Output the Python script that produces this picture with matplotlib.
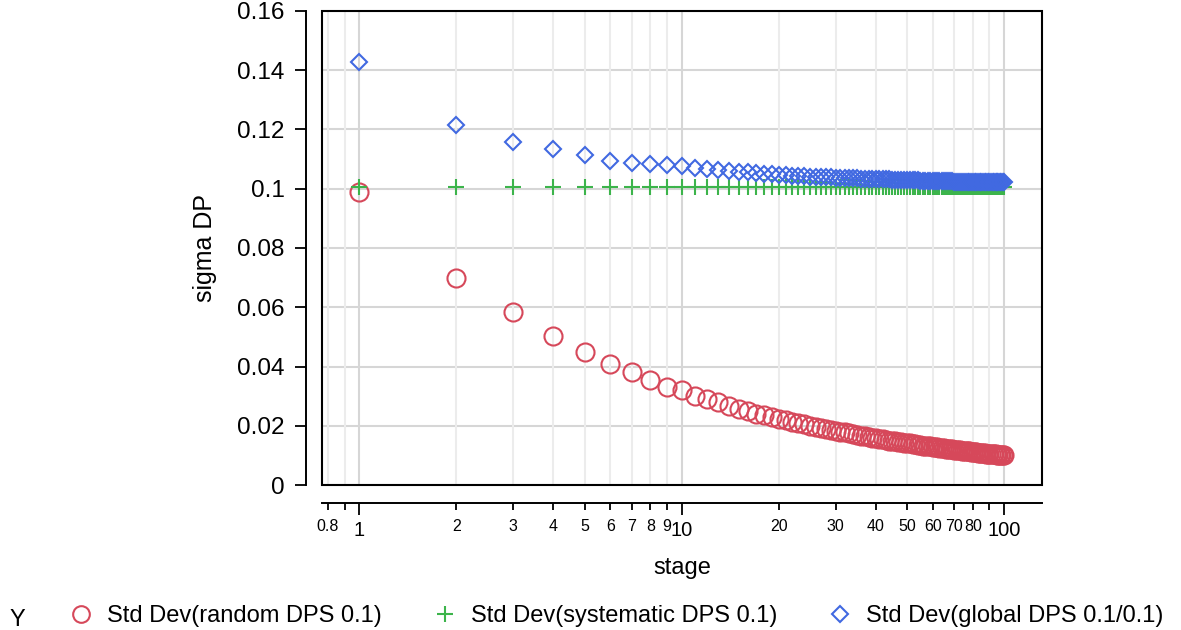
import numpy as np
import matplotlib
matplotlib.use('Agg')
import matplotlib.pyplot as plt
from matplotlib.lines import Line2D
from matplotlib.patches import Rectangle
from matplotlib.ticker import FixedLocator, FixedFormatter

plt.rcParams['font.family'] = ['Liberation Sans', 'DejaVu Sans']

# stages 1..100
stage = list(range(1, 101))

random_dps = [
    0.0988, 0.0699, 0.0583, 0.0502, 0.0449, 0.0409, 0.0381, 0.0355, 0.0330, 0.0321,
    0.0300, 0.0290, 0.0281, 0.0266, 0.0258, 0.0252, 0.0242, 0.0237, 0.0231, 0.0224,
    0.0219, 0.0214, 0.0210, 0.0206, 0.0201, 0.0197, 0.0193, 0.0190, 0.0186, 0.0184,
    0.0181, 0.0178, 0.0175, 0.0172, 0.0170, 0.0167, 0.0165, 0.0163, 0.0161, 0.0159,
    0.0157, 0.0155, 0.0153, 0.0151, 0.0150, 0.0148, 0.0146, 0.0145, 0.0143, 0.0142,
    0.0141, 0.0139, 0.0138, 0.0137, 0.0135, 0.0134, 0.0133, 0.0132, 0.0131, 0.0130,
    0.0129, 0.0128, 0.0127, 0.0126, 0.0125, 0.0124, 0.0123, 0.0122, 0.0121, 0.0120,
    0.0119, 0.0118, 0.0118, 0.0117, 0.0116, 0.0115, 0.0114, 0.0114, 0.0113, 0.0112,
    0.0112, 0.0111, 0.0110, 0.0110, 0.0109, 0.0108, 0.0108, 0.0107, 0.0107, 0.0106,
    0.0105, 0.0105, 0.0104, 0.0104, 0.0103, 0.0103, 0.0102, 0.0102, 0.0101, 0.0101,
]

systematic_dps = [
    0.1006, 0.1005, 0.1006, 0.1006, 0.1005, 0.1006, 0.1005, 0.1006, 0.1006, 0.1005,
    0.1006, 0.1005, 0.1006, 0.1005, 0.1006, 0.1006, 0.1005, 0.1006, 0.1005, 0.1006,
    0.1005, 0.1006, 0.1006, 0.1005, 0.1006, 0.1005, 0.1006, 0.1005, 0.1006, 0.1006,
    0.1005, 0.1006, 0.1005, 0.1006, 0.1006, 0.1005, 0.1006, 0.1005, 0.1006, 0.1005,
    0.1006, 0.1006, 0.1005, 0.1006, 0.1005, 0.1006, 0.1005, 0.1006, 0.1006, 0.1005,
    0.1006, 0.1005, 0.1006, 0.1005, 0.1006, 0.1006, 0.1005, 0.1006, 0.1005, 0.1006,
    0.1005, 0.1006, 0.1006, 0.1005, 0.1006, 0.1005, 0.1006, 0.1005, 0.1006, 0.1006,
    0.1005, 0.1006, 0.1005, 0.1006, 0.1006, 0.1005, 0.1006, 0.1005, 0.1006, 0.1005,
    0.1006, 0.1006, 0.1005, 0.1006, 0.1005, 0.1006, 0.1005, 0.1006, 0.1006, 0.1005,
    0.1006, 0.1005, 0.1006, 0.1005, 0.1006, 0.1006, 0.1005, 0.1006, 0.1005, 0.1006,
]

global_dps = [
    0.1428, 0.1213, 0.1159, 0.1133, 0.1112, 0.1094, 0.1087, 0.1083, 0.1080, 0.1075,
    0.1071, 0.1066, 0.1062, 0.1060, 0.1057, 0.1055, 0.1053, 0.1050, 0.1049, 0.1047,
    0.1046, 0.1044, 0.1043, 0.1042, 0.1041, 0.1040, 0.1040, 0.1039, 0.1038, 0.1037,
    0.1037, 0.1036, 0.1036, 0.1035, 0.1035, 0.1034, 0.1034, 0.1033, 0.1033, 0.1032,
    0.1032, 0.1031, 0.1031, 0.1031, 0.1030, 0.1030, 0.1030, 0.1029, 0.1029, 0.1029,
    0.1028, 0.1028, 0.1028, 0.1028, 0.1027, 0.1027, 0.1027, 0.1027, 0.1026, 0.1026,
    0.1026, 0.1026, 0.1026, 0.1025, 0.1025, 0.1025, 0.1025, 0.1025, 0.1025, 0.1024,
    0.1024, 0.1024, 0.1024, 0.1024, 0.1024, 0.1024, 0.1023, 0.1023, 0.1023, 0.1023,
    0.1023, 0.1023, 0.1023, 0.1023, 0.1023, 0.1022, 0.1022, 0.1022, 0.1022, 0.1022,
    0.1022, 0.1022, 0.1022, 0.1022, 0.1022, 0.1022, 0.1022, 0.1022, 0.1022, 0.1022,
]

series_labels = ['Std Dev(random DPS 0.1)', 'Std Dev(systematic DPS 0.1)',
                 'Std Dev(global DPS 0.1/0.1)']

y_ticks = [0, 0.02, 0.04, 0.06, 0.08, 0.1, 0.12, 0.14, 0.16]
y_ticklabels = ['0', '0.02', '0.04', '0.06', '0.08', '0.1', '0.12', '0.14', '0.16']
x_major = [1, 10, 100]
x_minor = [0.8, 0.9, 2, 3, 4, 5, 6, 7, 8, 9, 20, 30, 40, 50, 60, 70, 80, 90]
x_minor_labels = ['0.8', '', '2', '3', '4', '5', '6', '7', '8', '9',
                  '20', '30', '40', '50', '60', '70', '80', '']

red = '#d6485a'
green = '#3cb44b'
blue = '#4169e1'

fig = plt.figure(figsize=(11.81, 6.30), dpi=100)
ax = fig.add_axes([0.2726, 0.2297, 0.6097, 0.7533])

ax.plot(stage, random_dps, linestyle='none', marker='o', markersize=13,
        markerfacecolor='none', markeredgecolor=red, markeredgewidth=1.5, zorder=3)
ax.plot(stage, systematic_dps, linestyle='none', marker='+', markersize=11.5,
        markeredgecolor=green, markeredgewidth=1.5, zorder=4)
ax.plot(stage, global_dps, linestyle='none', marker='D', markersize=8.5,
        markerfacecolor='none', markeredgecolor=blue, markeredgewidth=1.5, zorder=5)

ax.set_xscale('log')
ax.set_xlim(0.766, 131)
ax.set_ylim(0, 0.16)

ax.xaxis.set_major_locator(FixedLocator(x_major))
ax.xaxis.set_major_formatter(FixedFormatter(['1', '10', '100']))
ax.xaxis.set_minor_locator(FixedLocator(x_minor))
ax.xaxis.set_minor_formatter(FixedFormatter(x_minor_labels))
ax.yaxis.set_major_locator(FixedLocator(y_ticks))
ax.yaxis.set_major_formatter(FixedFormatter(y_ticklabels))

ax.tick_params(axis='x', which='major', labelsize=14.5, length=8.5, width=1.3, pad=5)
ax.tick_params(axis='x', which='minor', labelsize=11.5, length=5, width=1.3, pad=7)
ax.tick_params(axis='y', which='major', labelsize=17.5, length=8, width=1.3, pad=7.5)

# grid
for v in y_ticks:
    ax.axhline(v, color='#d6d6d6', linewidth=1.5, zorder=1)
for v in x_minor:
    ax.axvline(v, color='#ececec', linewidth=1.5, zorder=1)
for v in x_major:
    ax.axvline(v, color='#d6d6d6', linewidth=1.5, zorder=1)

for s in ['top', 'right']:
    ax.spines[s].set_visible(False)
ax.spines['left'].set_position(('outward', 11.5))
ax.spines['bottom'].set_position(('outward', 12.5))
ax.spines['left'].set_linewidth(1.4)
ax.spines['bottom'].set_linewidth(1.4)

# frame around the plot area
ax.add_patch(Rectangle((0, 0), 1, 1, transform=ax.transAxes, fill=False,
                       edgecolor='black', linewidth=1.5, clip_on=False, zorder=6))

ax.set_xlabel('stage', fontsize=17, labelpad=12)
ax.set_ylabel('sigma DP', fontsize=18, labelpad=14)

handles = [
    Line2D([], [], linestyle='none', marker='o', markersize=12, markerfacecolor='none',
           markeredgecolor=red, markeredgewidth=1.5),
    Line2D([], [], linestyle='none', marker='+', markersize=12, markeredgecolor=green,
           markeredgewidth=1.5),
    Line2D([], [], linestyle='none', marker='D', markersize=8.5, markerfacecolor='none',
           markeredgecolor=blue, markeredgewidth=1.5),
]
fig.legend(handles, series_labels, loc='center left', bbox_to_anchor=(0.0504, 0.0222),
           ncol=3, frameon=False, fontsize=17, handlelength=1.0, handletextpad=0.6,
           columnspacing=2.18, borderaxespad=0)
fig.text(10 / 1181, 1 - 620 / 630, 'Y', fontsize=17, ha='left', va='center')

fig.savefig('out.png', dpi=100)
